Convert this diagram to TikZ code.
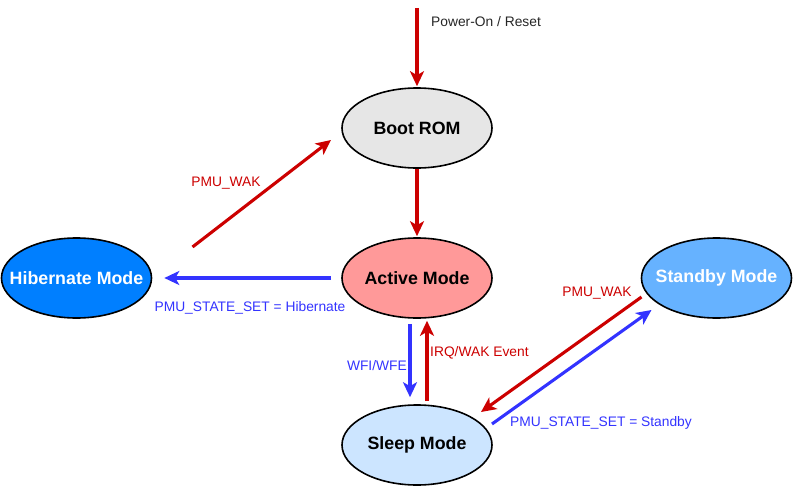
\documentclass[tikz,border=0pt]{standalone}
\usepackage{fontspec}
\setmainfont{Liberation Sans}
\usetikzlibrary{shapes.geometric,arrows.meta,calc}
\definecolor{ered}{HTML}{CC0000}
\definecolor{eblue}{HTML}{3333FF}
\definecolor{bootc}{HTML}{E6E6E6}
\definecolor{actc}{HTML}{FF9999}
\definecolor{hibc}{HTML}{007FFF}
\definecolor{stbc}{HTML}{66B2FF}
\definecolor{slpc}{HTML}{CCE5FF}
\tikzset{
  state/.style={ellipse, draw=black, line width=1.6pt, minimum width=150pt, minimum height=80pt, inner xsep=-20pt, inner ysep=0pt, font=\fontsize{17.8pt}{20pt}\selectfont\bfseries},
  redarrow/.style={draw=ered, line width=3.1pt, -{Stealth[length=15pt,width=14pt,inset=4pt]}},
  bluearrow/.style={draw=eblue, line width=3.1pt, -{Stealth[length=15pt,width=14pt,inset=4pt]}},
  lbl/.style={font=\fontsize{13.8pt}{16pt}\selectfont, inner sep=0pt},
  redlbl/.style={lbl, text=ered},
  bluelbl/.style={lbl, text=eblue}
}
\begin{document}
\begin{tikzpicture}[x=1pt,y=-1pt]
\useasboundingbox (0,0) rectangle (793,487);
\node[state, fill=bootc] (boot) at (417,128) {Boot ROM};
\node[state, fill=actc] (act) at (417,278) {Active Mode};
\node[state, fill=hibc, text=white] (hib) at (76.5,278) {Hibernate Mode};
\node[state, fill=stbc, text=white] (stb) at (716.5,278) {Standby Mode};
\node[state, fill=slpc] (slp) at (417,445) {Sleep Mode};
\coordinate (pwr) at (417,8);

\draw[redarrow, shorten >=1pt] (pwr) -- (boot.north);
\node[lbl, anchor=west, text=black!85] (lpwr) at (431,22) {Power-On / Reset};

\draw[redarrow, shorten >=1pt] (boot.south) -- (act.north);

\draw[redarrow] ($(hib.center)+(116,-31)$) -- ($(boot.center)+(-86,12)$);
\node[redlbl] (lwak1) at (226,183) {PMU\_WAK};

\draw[bluearrow] ($(act.west)+(-10,0)$) -- ($(hib.east)+(12,0)$);
\node[bluelbl] (lhib) at (250,308) {PMU\_STATE\_SET = Hibernate};

\draw[bluearrow] ($(act.south)+(-7,5)$) -- ($(slp.north)+(-7,-7)$);
\node[bluelbl, anchor=east] (lwfi) at (407,366) {WFI/WFE};

\draw[redarrow] ($(slp.north)+(10,-3)$) -- ($(act.south)+(10,2)$);
\node[redlbl, anchor=west] (lirq) at (430,353) {IRQ/WAK Event};

\draw[redarrow] ($(stb.center)+(-75,19)$) -- ($(slp.center)+(64,-33)$);
\node[redlbl] (lwak2) at (597,293) {PMU\_WAK};

\draw[bluearrow] ($(slp.center)+(75,-21)$) -- ($(stb.center)+(-65,32)$);
\node[bluelbl] (lstb) at (601,423) {PMU\_STATE\_SET = Standby};
\end{tikzpicture}
\end{document}
